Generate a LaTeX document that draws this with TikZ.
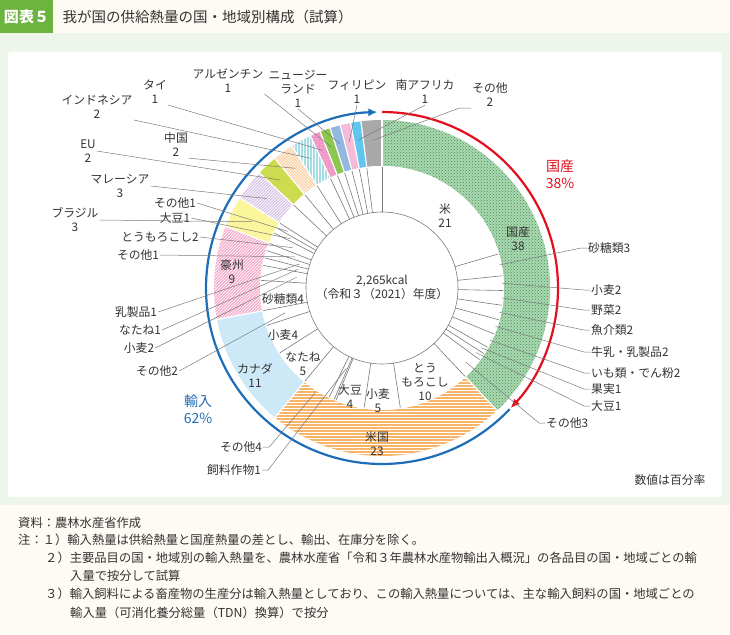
\documentclass[tikz,border=0pt]{standalone}
\usepackage{fontspec}
\setmainfont{Noto Sans CJK JP}
\usetikzlibrary{patterns,calc,arrows.meta}
\definecolor{txt}{HTML}{333333}
\definecolor{ld}{HTML}{7A7A7A}
\definecolor{cGreen}{HTML}{A9D9B2}
\definecolor{cUS}{HTML}{F8B468}
\definecolor{cCA}{HTML}{CDE9F8}
\definecolor{cAU}{HTML}{F6B0CF}
\definecolor{cBR}{HTML}{FBF59B}
\definecolor{cMY}{HTML}{D9C9E9}
\definecolor{cEU}{HTML}{CCDC4E}
\definecolor{cCN}{HTML}{FBD3A8}
\definecolor{cID}{HTML}{A6DCE3}
\definecolor{cTH}{HTML}{F094C4}
\definecolor{cAR}{HTML}{8CC74F}
\definecolor{cNZ}{HTML}{92B8E2}
\definecolor{cPH}{HTML}{F5BBD9}
\definecolor{cZA}{HTML}{5EC6EF}
\definecolor{cOT}{HTML}{A9A9A9}
\definecolor{cRed}{HTML}{E2101F}
\definecolor{cBlue}{HTML}{1E6DB8}
\definecolor{tabG}{HTML}{6DB33F}
\definecolor{bgG}{HTML}{EEF5EA}
\definecolor{cream}{HTML}{FDFBF3}
\newcommand\mywedge[5]{\fill[#5] (#1-90:#3) arc (#1-90:#2-90:#3) -- (#2-90:#4) arc (#2-90:#1-90:#4) -- cycle;}
\begin{document}
\begin{tikzpicture}[x=1pt,y=-1pt,
  lab/.style={text=txt,font=\fontsize{11.8}{14}\selectfont,inner sep=1pt,align=center},
  note/.style={text=txt,font=\fontsize{12.3}{13}\selectfont,anchor=west,inner sep=0pt},
  lead/.style={draw=ld,line width=0.5pt}]
\useasboundingbox (0,0) rectangle (730,634);
\fill[cream] (0,0) rectangle (730,634);
\fill[bgG] (0,33) rectangle (730,505);
\fill[white,rounded corners=3pt] (8,52) rectangle (722,497);
\fill[tabG] (0,0) rectangle (53,33);
\node[text=white,font=\bfseries\fontsize{15}{17}\selectfont] (tab) at (26.5,17) {図表５};
\node[anchor=west,text=txt,font=\fontsize{14.5}{16}\selectfont] (title) at (59,17) {我が国の供給熱量の国・地域別構成（試算）};

\begin{scope}[shift={(382,288)}]
\mywedge{0}{136.8}{122}{168}{cGreen}
\mywedge{0}{136.8}{122}{168}{pattern=crosshatch dots,pattern color=green!35!black!70}
\mywedge{136.8}{219.6}{122}{168}{cUS}
\mywedge{136.8}{219.6}{122}{168}{pattern=horizontal lines,pattern color=white}
\mywedge{219.6}{259.2}{122}{168}{cCA}
\mywedge{259.2}{291.6}{122}{168}{cAU}
\mywedge{259.2}{291.6}{122}{168}{pattern=north east lines,pattern color=white}
\mywedge{291.6}{302.4}{122}{168}{cBR}
\mywedge{302.4}{313.2}{122}{168}{cMY}
\mywedge{302.4}{313.2}{122}{168}{pattern=north east lines,pattern color=white}
\mywedge{313.2}{320.4}{122}{168}{cEU}
\mywedge{320.4}{327.6}{122}{168}{cCN}
\mywedge{320.4}{327.6}{122}{168}{pattern=north west lines,pattern color=white}
\mywedge{327.6}{334.8}{122}{168}{cID}
\mywedge{327.6}{334.8}{122}{168}{pattern=vertical lines,pattern color=white}
\mywedge{334.8}{338.4}{122}{168}{cTH}
\mywedge{334.8}{338.4}{122}{168}{pattern=dots,pattern color=white}
\mywedge{338.4}{342}{122}{168}{cAR}
\mywedge{342}{345.6}{122}{168}{cNZ}
\mywedge{345.6}{349.2}{122}{168}{cPH}
\mywedge{349.2}{352.8}{122}{168}{cZA}
\mywedge{352.8}{360}{122}{168}{cOT}
\foreach \a in {0,136.8,219.6,259.2,291.6,302.4,313.2,320.4,327.6,334.8,338.4,342,345.6,349.2,352.8}
  \draw[white,line width=1.2pt] (\a-90:121) -- (\a-90:169);
\fill[white] (0,0) circle (122);
\draw[ld,line width=0.6pt] (0,0) circle (76);
\foreach \a in {0,73.7,84.2,91.2,98.2,105.2,112.3,119.3,122.8,126.3,136.8,
   171.3,188.5,202.3,203.2,205.8,219.6,237.6,252,259.2,273.6,280.8,284.4,288,291.6,
   297,299.7,302.4,313.2,320.4,327.6,334.8,338.4,342,345.6,349.2,352.8}
  \draw[ld,line width=0.6pt] (\a-90:76) -- (\a-90:121);
\draw[cRed,line width=2.2pt,-{Latex[length=9pt,width=8pt]}] (-90:176) arc (-90:43:176);
\draw[cBlue,line width=2.2pt,-{Latex[length=9pt,width=8pt]}] (43.5:176) arc (43.5:268.5:176);
\coordinate (tOT) at (356.4-90:148);
\coordinate (tZA) at (351-90:150);
\coordinate (tPH) at (347.4-90:150);
\coordinate (tNZ) at (343.8-90:150);
\coordinate (tAR) at (340.2-90:150);
\coordinate (tTH) at (336.6-90:150);
\coordinate (tID) at (331.2-90:148);
\coordinate (tCN) at (324-90:148);
\coordinate (tEU) at (316.8-90:148);
\coordinate (tMY) at (307.8-90:146);
\coordinate (tBR) at (297-90:146);
\coordinate (tbo) at (301-90:110);
\coordinate (tbs) at (298.3-90:104);
\coordinate (tbc) at (294.3-90:98);
\coordinate (tao) at (289.8-90:92);
\coordinate (tad) at (286.2-90:86);
\coordinate (tan) at (282.6-90:86);
\coordinate (taw) at (277.2-90:86);
\coordinate (tco) at (255.6-90:100);
\coordinate (tuo) at (212.5-90:124);
\coordinate (tuf) at (204-90:88);
\coordinate (d1) at (78.9-90:120);
\coordinate (d2) at (87.7-90:120);
\coordinate (d3) at (94.7-90:120);
\coordinate (d4) at (101.7-90:120);
\coordinate (d5) at (108.7-90:120);
\coordinate (d6) at (115.8-90:120);
\coordinate (d7) at (121-90:116);
\coordinate (d8) at (124.5-90:114);
\coordinate (d9) at (131.5-90:112);
\end{scope}

\node[lab] (kcal) at (382,287) {2,265kcal\\（令和３（2021）年度）};
\node[lab] (rice) at (445,216) {米\\21};
\node[lab] (dom) at (518,239) {国産\\38};
\node[lab] (aus) at (232,272) {豪州\\9};
\node[lab] (sug) at (283,299) {砂糖類4};
\node[lab] (wh4) at (283,335) {小麦4};
\node[lab] (rap) at (303,364) {なたね\\5};
\node[lab] (can) at (255,376) {カナダ\\11};
\node[lab] (soy) at (350,397) {大豆\\4};
\node[lab] (wh5) at (378,401) {小麦\\5};
\node[lab] (corn) at (425,382) {とう\\もろこし\\10};
\node[lab] (usa) at (377,444) {米国\\23};
\node[lab,text=cRed,font=\fontsize{14}{17}\selectfont] (kok) at (560,174) {国産\\38\%};
\node[lab,text=cBlue,font=\fontsize{14}{17}\selectfont] (yun) at (198,409) {輸入\\62\%};
\node[lab] (pct) at (670,480) {数値は百分率};

\node[lab] (lOT) at (490,95) {その他\\2};
\node[lab] (lZA) at (425,92) {南アフリカ\\1};
\node[lab] (lPH) at (357,92) {フィリピン\\1};
\node[lab] (lNZ) at (298,89) {ニュージー\\ランド\\1};
\node[lab] (lAR) at (228,81) {アルゼンチン\\1};
\node[lab] (lTH) at (155,92) {タイ\\1};
\node[lab] (lID) at (97,107) {インドネシア\\2};
\node[lab] (lEU) at (88,151) {EU\\2};
\node[lab] (lCN) at (176,145) {中国\\2};
\node[lab] (lMY) at (120,186) {マレーシア\\3};
\node[lab] (lBR) at (75,220) {ブラジル\\3};
\node[lab] (lbo) at (175,203) {その他1};
\node[lab] (lbs) at (175,218) {大豆1};
\node[lab] (lbc) at (160,237) {とうもろこし2};
\node[lab] (lao) at (138,255) {その他1};
\node[lab] (lad) at (136,312) {乳製品1};
\node[lab] (lan) at (140,330) {なたね1};
\node[lab] (law) at (139,348) {小麦2};
\node[lab] (lco) at (157,371) {その他2};
\node[lab] (luo) at (241,447) {その他4};
\node[lab] (luf) at (234,470) {飼料作物1};
\node[lab,anchor=west] (r1) at (587,248) {砂糖類3};
\node[lab,anchor=west] (r2) at (590,290) {小麦2};
\node[lab,anchor=west] (r3) at (590,310) {野菜2};
\node[lab,anchor=west] (r4) at (590,330) {魚介類2};
\node[lab,anchor=west] (r5) at (590,352) {牛乳・乳製品2};
\node[lab,anchor=west] (r6) at (590,373) {いも類・でん粉2};
\node[lab,anchor=west] (r7) at (590,389) {果実1};
\node[lab,anchor=west] (r8) at (590,406) {大豆1};
\node[lab,anchor=west] (r9) at (545,423) {その他3};

\draw[lead] (lOT.south west) -- ++(-12,0) -- (tOT);
\draw[lead] (lZA.south) -- (tZA);
\draw[lead] (lPH.south) -- (tPH);
\draw[lead] (lNZ.south) -- (tNZ);
\draw[lead] (lAR.south east) -- (tAR);
\draw[lead] (lTH.south east) -- (tTH);
\draw[lead] (lID.south east) -- (tID);
\draw[lead] (lEU.east) -- (tEU);
\draw[lead] (lCN.south east) -- (tCN);
\draw[lead] (lMY.east) -- (tMY);
\draw[lead] (lBR.east) -- (tBR);
\draw[lead] (lbo.east) -- (tbo);
\draw[lead] (lbs.east) -- (tbs);
\draw[lead] (lbc.east) -- (tbc);
\draw[lead] (lao.east) -- (tao);
\draw[lead] (lad.east) -- (tad);
\draw[lead] (lan.east) -- (tan);
\draw[lead] (law.east) -- (taw);
\draw[lead] (lco.east) -- (tco);
\draw[lead] (luo.east) -- ++(6,0) -- (tuo);
\draw[lead] (luf.east) -- ++(6,0) -- (tuf);
\draw[lead] (r1.west) -- ++(-6,0) -- (d1);
\draw[lead] (r2.west) -- ++(-6,0) -- (d2);
\draw[lead] (r3.west) -- ++(-6,0) -- (d3);
\draw[lead] (r4.west) -- ++(-6,0) -- (d4);
\draw[lead] (r5.west) -- ++(-6,0) -- (d5);
\draw[lead] (r6.west) -- ++(-6,0) -- (d6);
\draw[lead] (r7.west) -- ++(-6,0) -- (d7);
\draw[lead] (r8.west) -- ++(-6,0) -- (d8);
\draw[lead] (r9.west) -- ++(-6,0) -- (d9);

\node[note] (n0) at (18,523) {資料：農林水産省作成};
\node[note] (n1) at (18,540) {注：１）輸入熱量は供給熱量と国産熱量の差とし、輸出、在庫分を除く。};
\node[note] (n2) at (45,558) {２）主要品目の国・地域別の輸入熱量を、農林水産省「令和３年農林水産物輸出入概況」の各品目の国・地域ごとの輸};
\node[note] (n3) at (70,576) {入量で按分して試算};
\node[note] (n4) at (45,594) {３）輸入飼料による畜産物の生産分は輸入熱量としており、この輸入熱量については、主な輸入飼料の国・地域ごとの};
\node[note] (n5) at (70,613) {輸入量（可消化養分総量（TDN）換算）で按分};
\end{tikzpicture}
\end{document}
